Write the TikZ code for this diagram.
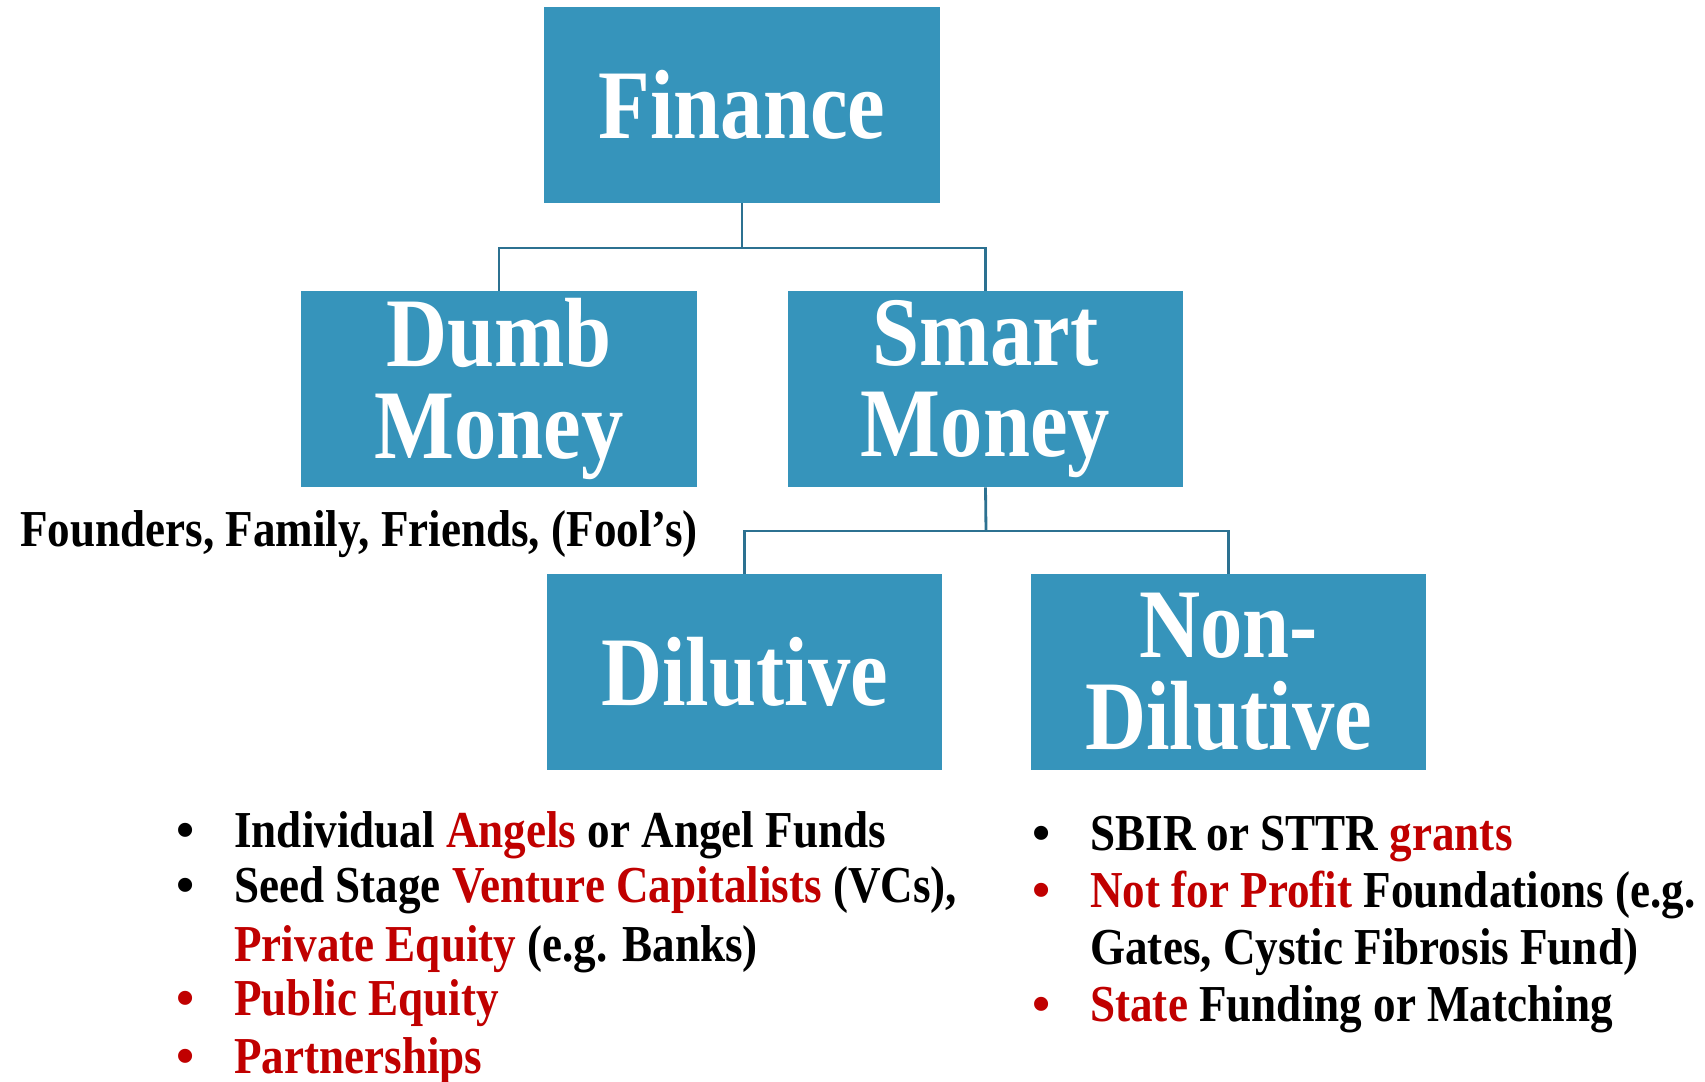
\documentclass[tikz,border=0pt]{standalone}
\usepackage{fontspec}
\setmainfont{Liberation Serif}
\newfontfamily\boxfont[FakeStretch=0.86]{Liberation Serif}
\newfontfamily\listfont[FakeStretch=0.87]{Liberation Serif}
\usepackage{tikz}
\usetikzlibrary{calc}

\definecolor{boxblue}{RGB}{54,148,187}
\definecolor{linkblue}{RGB}{44,113,145}
\definecolor{hired}{RGB}{192,0,0}

\begin{document}
\begin{tikzpicture}[x=0.02cm,y=-0.02cm,
			fbox/.style={rectangle,fill=boxblue,text=white,minimum width=7.92cm,minimum height=3.92cm,
				align=center,inner sep=0pt,font=\boxfont\bfseries\fontsize{56}{52}\selectfont},
			link/.style={draw=linkblue,line width=1.6pt},
			item/.style={anchor=base west,inner sep=0pt,font=\listfont\bfseries\fontsize{29.5}{32}\selectfont},
			dot/.style={anchor=base west,inner sep=0pt,font=\bfseries\fontsize{29.5}{32}\selectfont},
			]
			\useasboundingbox (0,0) rectangle (1705,1082);
			
			% boxes
			\node[fbox] (finance) at (742,105) {Finance};
			\node[fbox] (dumb) at (499,389) {Dumb\\Money};
			\node[fbox] (smart) at (985.5,389) {Smart\\Money};
			\node[fbox] (dil) at (744.5,672) {Dilutive};
			\node[fbox] (nondil) at (1228.5,672) {Non-\\Dilutive};
			
			% connectors
			\coordinate (jf) at (742,248);
			\coordinate (js) at (986,531);
			\draw[link] (finance.south) -- (jf);
			\draw[link] (dumb.north) |- (jf) -| (smart.north);
			\draw[link] (smart.south) -- (js);
			\draw[link] (dil.north) |- (js) -| (nondil.north);
			
			% dumb money
			\node[item] (fff) at (20,546) {Founders, Family, Friends, (Fool’s)};
			
			% dilutive list
			\node[dot] (d1b) at (176,847) {•};
			\node[item] (d1) at (234,847) {Individual \textcolor{hired}{Angels} or Angel Funds};
			\node[dot] (d2b) at (176,902) {•};
			\node[item] (d2) at (234,902) {Seed Stage \textcolor{hired}{Venture Capitalists} (VCs),};
			\node[item] (d2c) at (234,961) {\textcolor{hired}{Private Equity} (e.g. Banks)};
			\node[dot,text=hired] (d3b) at (176,1015) {•};
			\node[item,text=hired] (d3) at (234,1015) {Public Equity};
			\node[dot,text=hired] (d4b) at (176,1073) {•};
			\node[item,text=hired] (d4) at (234,1073) {Partnerships};
			
			% non-dilutive list
			\node[dot] (n1b) at (1032,850) {•};
			\node[item] (n1) at (1090,850) {SBIR or STTR \textcolor{hired}{grants}};
			\node[dot,text=hired] (n2b) at (1032,907) {•};
			\node[item] (n2) at (1090,907) {\textcolor{hired}{Not for Profit} Foundations (e.g.};
			\node[item] (n2c) at (1090,964) {Gates, Cystic Fibrosis Fund)};
			\node[dot,text=hired] (n3b) at (1032,1021) {•};
			\node[item] (n3) at (1090,1021) {\textcolor{hired}{State} Funding or Matching};
		\end{tikzpicture}
\end{document}
